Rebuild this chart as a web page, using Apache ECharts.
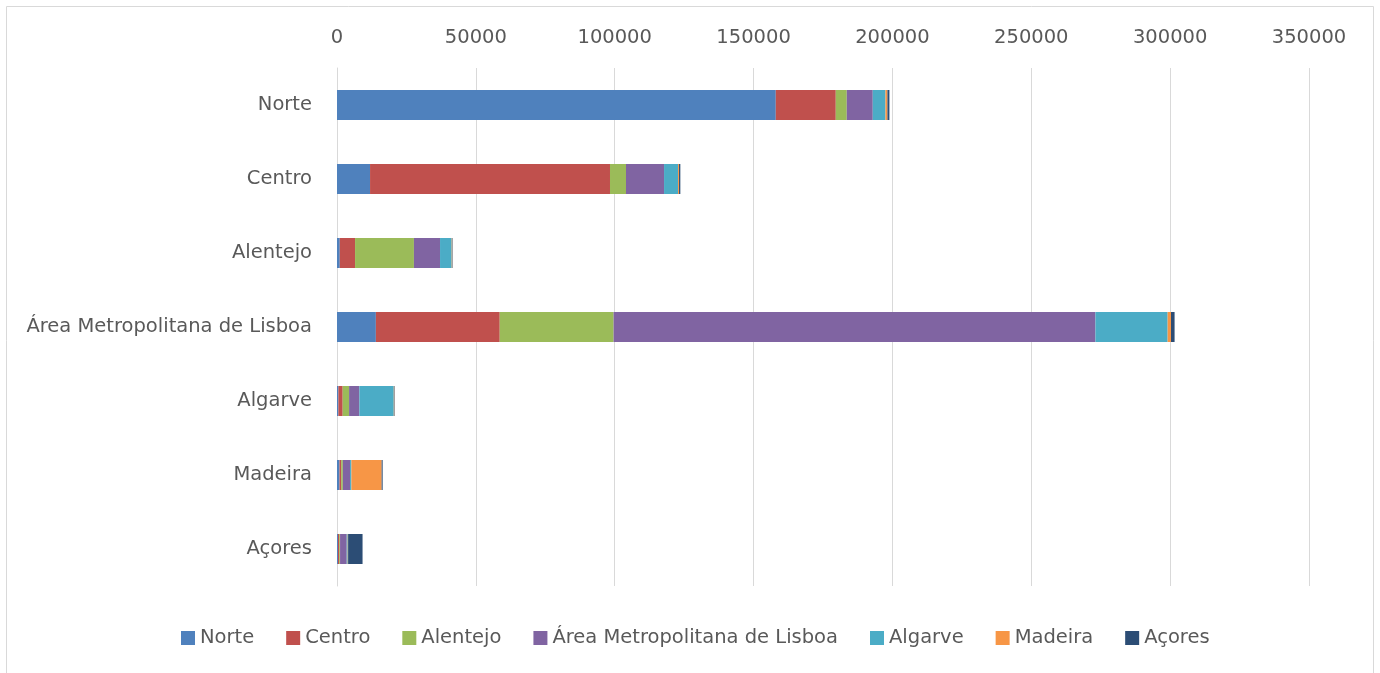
<!DOCTYPE html>
<html>
<head>
<meta charset="utf-8">
<script src="https://cdn.jsdelivr.net/npm/echarts@6/dist/echarts.min.js"></script>
<style>
  html, body { margin: 0; padding: 0; background: #fff; }
  #chart { width: 1380px; height: 673px; }
</style>
</head>
<body>
<div id="chart"></div>
<script>
// regions (rows, top to bottom)
var categories = ['Norte', 'Centro', 'Alentejo', 'Área Metropolitana de Lisboa', 'Algarve', 'Madeira', 'Açores'];
var seriesNames = ['Norte', 'Centro', 'Alentejo', 'Área Metropolitana de Lisboa', 'Algarve', 'Madeira', 'Açores'];
var colors = ['#4F81BD', '#C0504D', '#9BBB59', '#8064A2', '#4BACC6', '#F79646', '#2C4D75'];

// values per series, one per row
var norte    = [158000, 11900, 1000, 14000, 500, 900, 350];
var centro   = [21600, 86400, 5500, 44600, 1550, 600, 450];
var alentejo = [3960, 5760, 21200, 41000, 2300, 600, 300];
var aml      = [9360, 13700, 9400, 173500, 3700, 2600, 2400];
var algarve  = [4560, 5040, 4200, 26000, 12400, 480, 350];
var madeira  = [720, 360, 200, 1200, 200, 10900, 150];
var acores   = [720, 470, 150, 1300, 150, 360, 5200];
var values = [norte, centro, alentejo, aml, algarve, madeira, acores];

var xMax = 350000;
var xStep = 50000;

var chart = echarts.init(document.getElementById('chart'), null, { renderer: 'canvas' });

var series = [];
for (var i = 0; i < seriesNames.length; i++) {
  series.push({
    name: seriesNames[i],
    type: 'bar',
    stack: 'total',
    barWidth: 30,
    data: values[i],
    itemStyle: { color: colors[i] }
  });
}

var option = {
  animation: false,
  textStyle: { fontFamily: 'DejaVu Sans' },
  color: colors,
  // rahmen um das ganze diagramm
  graphic: [{
    type: 'rect',
    shape: { x: 6.5, y: 6.5, width: 1367, height: 680 },
    style: { fill: 'none', stroke: '#d9d9d9', lineWidth: 1 },
    silent: true
  }],
  grid: {
    left: 337,
    right: 71,
    top: 68,
    height: 518
  },
  legend: {
    data: seriesNames,
    top: 623,
    left: 176,
    padding: 5,
    icon: 'rect',
    itemWidth: 14,
    itemHeight: 14,
    itemGap: 32,
    textStyle: { color: '#595959', fontSize: 19.5 }
  },
  xAxis: {
    type: 'value',
    position: 'top',
    min: 0,
    max: xMax,
    interval: xStep,
    axisLine: { show: false },
    axisTick: { show: false },
    axisLabel: {
      color: '#595959',
      fontSize: 19.5,
      margin: 20,
      formatter: function (v) { return String(v); }
    },
    splitLine: { lineStyle: { color: '#d9d9d9', width: 1 } }
  },
  yAxis: {
    type: 'category',
    inverse: true,
    data: categories,
    axisTick: { show: false },
    axisLine: { lineStyle: { color: '#d9d9d9', width: 1 } },
    axisLabel: { color: '#595959', fontSize: 19.5, margin: 25 }
  },
  series: series
};

chart.setOption(option, true);
</script>
</body>
</html>
